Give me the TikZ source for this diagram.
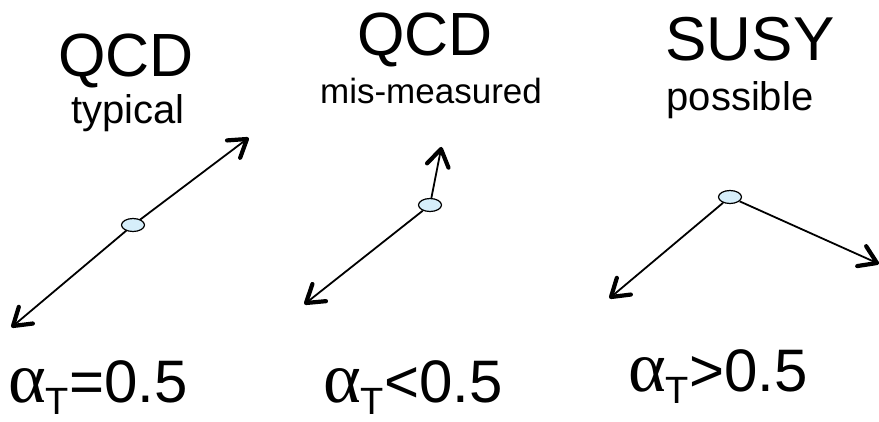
\documentclass[tikz,border=0pt]{standalone}
\usepackage{fontspec}
\setmainfont{Liberation Sans}
\newfontfamily\grkfont{Liberation Serif}
\usetikzlibrary{calc,shapes.geometric}
\definecolor{dotfill}{RGB}{214,238,250}
\tikzset{
  big/.style={inner sep=0pt, anchor=base, font=\fontsize{61}{66}\selectfont},
  small/.style={inner sep=0pt, anchor=base, font=\fontsize{40}{44}\selectfont},
  lbl/.style={inner sep=0pt, anchor=base west, font=\fontsize{60}{66}\selectfont},
  dot/.style={ellipse, draw=black, line width=1.2pt, fill=dotfill, minimum width=23pt, minimum height=13pt, inner sep=0pt},
  vec/.style={line width=1.8pt},
  head/.style={line width=4.2pt, line cap=round, line join=round},
}
\newcommand{\alphaT}[1]{{\grkfont\fontsize{72}{72}\selectfont α}\raisebox{-12pt}{\fontsize{38}{38}\selectfont T}#1}
\newcommand{\barbhead}[2]{\draw[head] ($(#1)!20pt!33:(#2)$) -- (#1) -- ($(#1)!20pt!-33:(#2)$);}
\begin{document}
\begin{tikzpicture}[x=1pt,y=-1pt]
\useasboundingbox (0,0) rectangle (879,421);
% text
\node[big] (q1) at (126,76) {QCD};
\node[small] (t1) at (128,123) {typical};
\node[big] (q2) at (425,55) {QCD};
\node[small, font=\fontsize{35}{40}\selectfont] (t2) at (431,103) {mis-measured};
\node[big, font=\fontsize{62}{66}\selectfont] (q3) at (750,60) {SUSY};
\node[small] (t3) at (740,110) {possible};
\node[lbl] (a1) at (8,402) {\alphaT{=0.5}};
\node[lbl] (a2) at (323,402) {\alphaT{<0.5}};
\node[lbl] (a3) at (628,391) {\alphaT{>0.5}};
% panel 1
\coordinate (p1a) at (247,139);
\coordinate (p1b) at (13,326);
\draw[vec] (133,225) coordinate (c1) -- (p1a);
\draw[vec] (c1) -- (p1b);
\node[dot] (e1) at (c1) {};
\barbhead{p1a}{e1}
\barbhead{p1b}{e1}
% panel 2
\coordinate (p2a) at (441,149);
\coordinate (p2b) at (306,303);
\node[dot] (e2) at (430,205) {};
\draw[vec] (e2) -- (p2a);
\draw[vec] (e2) -- (p2b);
\barbhead{p2a}{e2}
\barbhead{p2b}{e2}
% panel 3
\coordinate (p3a) at (877,263);
\coordinate (p3b) at (611,297);
\node[dot] (e3) at (730,197) {};
\draw[vec] (e3) -- (p3a);
\draw[vec] (e3) -- (p3b);
\barbhead{p3a}{e3}
\barbhead{p3b}{e3}
\end{tikzpicture}
\end{document}
